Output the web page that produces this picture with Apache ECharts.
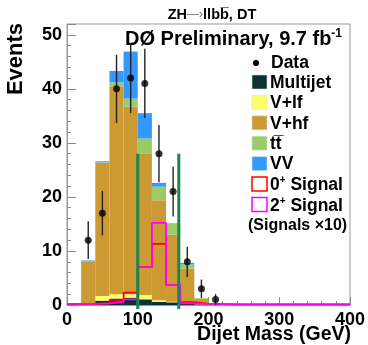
<!DOCTYPE html>
<html>
<head>
<meta charset="utf-8">
<script src="https://cdn.jsdelivr.net/npm/echarts@6/dist/echarts.min.js"></script>
<style>
	html,body{margin:0;padding:0;background:#fff;}
	#chart{width:368px;height:345px;}
</style>
</head>
<body>
<div id="chart"></div>
<script>
// bin lower edges (GeV), each bin 20 wide
const binLo = [0,20,40,60,80,100,120,140,160,180,200,220,240,260,280,300,320,340,360,380];
const binW = 20;
// background components, per bin (not cumulative)
const multijet = [0,0.1,0.8,1.2,1.35,1.05,0.6,0.5,0.2,0.1,0,0,0,0,0,0,0,0,0,0];
const vlf      = [0,0.1,0.85,0.8,0.65,0.8,0.3,0.1,0.05,0,0,0,0,0,0,0,0,0,0,0];
const vhf      = [0,7.9,24.65,38.5,34.7,26.25,18.5,12.4,6.45,1.1,0.3,0.1,0,0,0,0,0,0,0,0];
const ttbar    = [0,0.05,0.1,0.7,1.5,2.7,2.5,2.0,0.8,0.1,0,0,0,0,0,0,0,0,0,0];
const vv       = [0,0.1,0.2,2.1,8.7,4.7,0.7,0.1,0.3,0,0,0,0,0,0,0,0,0,0,0];
// signals (x10)
const sig0 = [0.15,0.2,0.3,0.9,2.3,7.0,11.3,3.7,0.55,0.2,0.15,0.1,0.1,0.1,0.1,0.1,0.1,0.1,0.1,0.1];
const sig2 = [0.2,0.2,0.3,0.6,1.05,7.0,15.2,3.7,0.3,0.2,0.15,0.1,0.1,0.1,0.1,0.1,0.1,0.1,0.1,0.1];
// data
const dataX   = [30,50,70,90,110,130,150,170,190,210];
const dataY   = [12,17,40,42,41,28,21,8,3,1];
const dataErr = [3.5,4.1,6.3,6.5,6.4,5.3,4.6,2.8,1.7,1.0];
// mass window lines
const cutLines = [100,158];
const cutTop = 28;

const components = [
	{name:'Multijet', vals:multijet, color:'#0b3333'},
	{name:'V+lf', vals:vlf, color:'#ffff66'},
	{name:'V+hf', vals:vhf, color:'#cc9933'},
	{name:'tt', vals:ttbar, color:'#99cc66'},
	{name:'VV', vals:vv, color:'#3399ff'}
];

const FONT = '"Liberation Sans", Arial, sans-serif';

// build stacked rectangles
let base = binLo.map(()=>0);
const stackSeries = components.map(c=>{
	const items = binLo.map((lo,k)=>{
		const b = base[k];
		const t = b + c.vals[k];
		base[k] = t;
		return [lo, lo+binW, b, t];
	});
	return {
		type:'custom',
		name:c.name,
		silent:true,
		data:items,
		encode:{x:[0,1], y:[2,3]},
		renderItem:(params, api)=>{
			const lo = api.value(0), hi = api.value(1), b = api.value(2), t = api.value(3);
			if (t - b <= 0) return null;
			const p1 = api.coord([lo, t]);
			const p2 = api.coord([hi, b]);
			return {
				type:'rect',
				shape:{x:p1[0], y:p1[1], width:p2[0]-p1[0], height:p2[1]-p1[1]},
				style:{fill:c.color}
			};
		},
		z:2
	};
});

function stepData(vals){
	const d = binLo.map((lo,k)=>[lo, vals[k]]);
	d.push([binLo[binLo.length-1]+binW, vals[vals.length-1]]);
	return d;
}

const legendRows = [
	{txt:'{b|Multijet}', color:'#0b3333'},
	{txt:'{b|V+lf}', color:'#ffff66'},
	{txt:'{b|V+hf}', color:'#cc9933'},
	{txt:'{b|tt\u0305}', color:'#99cc66'},
	{txt:'{b|VV}', color:'#3399ff'},
	{txt:'{b|0}{s|+}{b| Signal}', stroke:'#ff0000'},
	{txt:'{b|2}{s|+}{b| Signal}', stroke:'#ff00ff'}
];
const legendGraphics = [];
legendGraphics.push({type:'circle', shape:{cx:256, cy:63, r:3}, style:{fill:'#000'}});
legendGraphics.push({type:'text', x:271, y:63, style:{text:'Data', font:'bold 17.5px '+FONT, fill:'#000', verticalAlign:'middle'}});
legendRows.forEach((r,k)=>{
	const cy = 82 + k*20.4;
	legendGraphics.push({
		type:'rect',
		shape:{x:252, y:cy-7, width:15, height:14},
		style: r.stroke ? {fill:'#fff', stroke:r.stroke, lineWidth:1.5} : {fill:r.color, stroke:'#cfe3e3', lineWidth:0.6}
	});
	legendGraphics.push({
		type:'text', x:270, y:cy+1,
		style:{
			text:r.txt,
			verticalAlign:'middle',
			rich:{
				b:{font:'bold 17.5px '+FONT, fill:'#000', verticalAlign:'bottom'},
				s:{font:'bold 10px '+FONT, fill:'#000', verticalAlign:'top', padding:[0,0,9,0]}
			}
		}
	});
});
legendGraphics.push({type:'text', x:248, y:226, style:{text:'(Signals \u00d710)', font:'bold 16px '+FONT, fill:'#000', verticalAlign:'middle'}});

const chart = echarts.init(document.getElementById('chart'));
chart.setOption({
	animation:false,
	grid:{left:67, top:24, right:18, bottom:40, containLabel:false, outerBoundsMode:'none',
		show:true, borderColor:'#999', borderWidth:1, backgroundColor:'transparent'},
	xAxis:{
		type:'value', min:0, max:400, interval:100,
		axisLine:{show:true, lineStyle:{color:'#999'}},
		axisTick:{show:true, inside:true, length:8, lineStyle:{color:'#888'}},
		minorTick:{show:true, splitNumber:5, length:4, lineStyle:{color:'#888'}},
		splitLine:{show:false},
		axisLabel:{color:'#000', fontFamily:FONT, fontWeight:'bold', fontSize:18, margin:6}
	},
	yAxis:{
		type:'value', min:0, max:52, interval:10,
		axisLine:{show:true, lineStyle:{color:'#999'}},
		axisTick:{show:true, inside:true, length:9, lineStyle:{color:'#888'}},
		minorTick:{show:true, splitNumber:5, length:4, lineStyle:{color:'#888'}},
		splitLine:{show:false},
		axisLabel:{color:'#000', fontFamily:FONT, fontWeight:'bold', fontSize:18, margin:5}
	},
	graphic:[
		{type:'text', x:212, y:15, style:{
			text:'{a|ZH}{g|\u2014\u203a}{a|llbb\u0305, DT}',
			align:'center', verticalAlign:'middle',
			rich:{a:{font:'bold 14.5px '+FONT, fill:'#000'}, g:{font:'12px '+FONT, fill:'#777'}}
		}},
		{type:'text', x:125, y:39, style:{
			text:'{a|D\u00d8 Preliminary, 9.7 fb}{s|-1}',
			verticalAlign:'middle',
			rich:{a:{font:'bold 20px '+FONT, fill:'#000'}, s:{font:'bold 12px '+FONT, fill:'#000', padding:[0,0,11,0]}}
		}},
		{type:'text', x:16, y:59, rotation:Math.PI/2, style:{
			text:'Events', font:'bold 22px '+FONT, fill:'#000', align:'center', verticalAlign:'middle'
		}},
		{type:'text', x:351, y:335, style:{
			text:'Dijet Mass (GeV)', font:'bold 19.5px '+FONT, fill:'#000', align:'right', verticalAlign:'middle'
		}}
	].concat(legendGraphics),
	series: stackSeries.concat([
		{
			type:'line', name:'0+ Signal', data:stepData(sig0), step:'end', symbol:'none',
			lineStyle:{color:'#ff0000', width:1.8}, z:3, silent:true
		},
		{
			type:'line', name:'2+ Signal', data:stepData(sig2), step:'end', symbol:'none',
			lineStyle:{color:'#ff00ff', width:1.8}, z:4, silent:true
		},
		{
			type:'custom', name:'cuts', data:cutLines.map(x=>[x, cutTop]), encode:{x:0, y:1}, z:5, silent:true,
			renderItem:(params, api)=>{
				const p1 = api.coord([api.value(0), api.value(1)]);
				const p2 = api.coord([api.value(0), 0]);
				return {type:'line', shape:{x1:p1[0], y1:p1[1], x2:p2[0], y2:p2[1]+4}, style:{stroke:'#15874f', lineWidth:3}};
			}
		},
		{
			type:'custom', name:'err', data:dataX.map((x,k)=>[x, dataY[k]-dataErr[k], dataY[k]+dataErr[k]]),
			encode:{x:0, y:[1,2]}, z:6, silent:true,
			renderItem:(params, api)=>{
				const p1 = api.coord([api.value(0), api.value(1)]);
				const p2 = api.coord([api.value(0), api.value(2)]);
				return {type:'line', shape:{x1:p1[0], y1:p1[1], x2:p2[0], y2:p2[1]}, style:{stroke:'#222', lineWidth:1.4}};
			}
		},
		{
			type:'scatter', name:'Data', data:dataX.map((x,k)=>[x, dataY[k]]), symbol:'circle', symbolSize:7,
			itemStyle:{color:'#000'}, z:7, silent:true
		}
	])
});
</script>
</body>
</html>
